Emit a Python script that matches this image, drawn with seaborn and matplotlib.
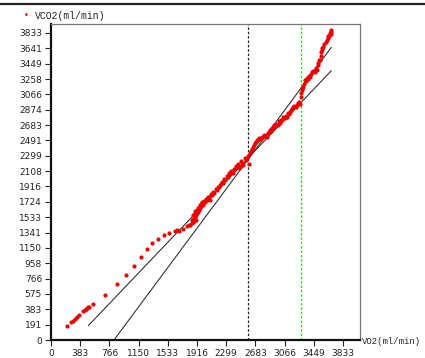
import numpy as np
import pandas as pd
import seaborn as sns
import matplotlib.pyplot as plt
from matplotlib.lines import Line2D

# VO2 / VCO2 samples (ml/min)
vo2 = [206, 263, 284, 315, 337, 372, 425, 446, 459, 477, 490, 503, 556, 713, 871,
       989, 1090, 1186, 1256, 1326, 1405, 1483, 1553, 1624, 1660, 1676, 1728, 1780, 1807,
       1830, 1845, 1850, 1860, 1868, 1872, 1880, 1885, 1890, 1895, 1900, 1905, 1912, 1918,
       1925, 1930, 1938, 1945, 1952, 1960, 1968, 1975, 1985, 1992, 2000, 2010, 2020, 2035,
       2050, 2065, 2080, 2087, 2100, 2115, 2130, 2145, 2160, 2175, 2190, 2205, 2220, 2235,
       2250, 2262, 2275, 2290, 2305, 2320, 2335, 2350, 2365, 2380, 2393, 2400, 2415, 2430,
       2445, 2460, 2470, 2481, 2495, 2510, 2525, 2540, 2555, 2569, 2580, 2600, 2610, 2625,
       2640, 2655, 2665, 2678, 2690, 2705, 2721, 2735, 2750, 2765, 2780, 2795, 2810, 2831,
       2845, 2860, 2875, 2890, 2905, 2918, 2930, 2945, 2960, 2975, 2990, 3006, 3020, 3035,
       3050, 3065, 3080, 3094, 3110, 3125, 3137, 3150, 3165, 3181, 3195, 3210, 3225, 3240,
       3260, 3270, 3278, 3285, 3290, 3300, 3313, 3320, 3334, 3345, 3360, 3375, 3390, 3400,
       3415, 3430, 3445, 3460, 3475, 3488, 3500, 3510, 3520, 3531, 3540, 3545, 3553, 3560,
       3575, 3590, 3605, 3619, 3630, 3640, 3650, 3662, 3670, 3680, 3675]
vco2 = [179, 229, 241, 262, 283, 312, 362, 375, 391, 400, 408, 416, 449, 562, 699,
        811, 928, 1040, 1136, 1207, 1261, 1315, 1340, 1365, 1370, 1365, 1386, 1420, 1440,
        1430, 1460, 1500, 1475, 1561, 1520, 1490, 1580, 1540, 1610, 1560, 1500, 1623, 1590,
        1650, 1600, 1660, 1620, 1690, 1650, 1700, 1670, 1720, 1690, 1706, 1740, 1720, 1760,
        1750, 1790, 1780, 1748, 1820, 1810, 1850, 1840, 1880, 1873, 1910, 1905, 1940, 1950,
        1975, 1956, 2010, 2000, 2050, 2040, 2080, 2070, 2110, 2100, 2081, 2140, 2130, 2170,
        2160, 2200, 2150, 2164, 2230, 2215, 2185, 2270, 2250, 2268, 2300, 2200, 2340, 2360,
        2390, 2410, 2440, 2456, 2470, 2500, 2497, 2520, 2510, 2540, 2530, 2560, 2550, 2538,
        2590, 2600, 2620, 2615, 2650, 2643, 2680, 2670, 2700, 2690, 2730, 2705, 2750, 2745,
        2780, 2770, 2800, 2788, 2830, 2820, 2850, 2870, 2880, 2905, 2920, 2915, 2934, 2960,
        2975, 2950, 3037, 3080, 3120, 3140, 3162, 3200, 3246, 3230, 3270, 3260, 3300, 3287,
        3320, 3340, 3360, 3350, 3390, 3371, 3430, 3460, 3500, 3496, 3550, 3600, 3620, 3650,
        3662, 3690, 3720, 3745, 3770, 3800, 3790, 3829, 3850, 3870, 3820]

# two fitted slopes (end points)
fit1_x = [490, 3680]
fit1_y = [179, 3362]
fit2_x = [827, 3680]
fit2_y = [0, 3654]

vt1 = 2582
vt2 = 3282

tick_pos = [0, 383.3, 766.6, 1149.9, 1533.2, 1916.5, 2299.8, 2683.1, 3066.4, 3449.7, 3833]
x_labels = ["0", "383", "766", "1150", "1533", "1916", "2299", "2683", "3066", "3449", "3833"]
y_pos = [0, 191.65, 383.3, 574.95, 766.6, 958.25, 1149.9, 1341.55, 1533.2, 1724.85, 1916.5,
         2108.15, 2299.8, 2491.45, 2683.1, 2874.75, 3066.4, 3258.05, 3449.7, 3641.35, 3833]
y_labels = ["0", "191", "383", "575", "766", "958", "1150", "1341", "1533", "1724", "1916",
            "2108", "2299", "2491", "2683", "2874", "3066", "3258", "3449", "3641", "3833"]

df = pd.DataFrame({"VO2": vo2, "VCO2": vco2})

sns.set_style("white")
plt.rcParams['font.family'] = ['DejaVu Sans']

fig = plt.figure(figsize=(4.25, 3.58), dpi=100)
ax = fig.add_axes([51 / 425, 18 / 358, 309 / 425, 316 / 358])

sns.lineplot(x=fit1_x, y=fit1_y, color="#333333", lw=0.8, ax=ax)
sns.lineplot(x=fit2_x, y=fit2_y, color="#333333", lw=0.8, ax=ax)
ax.axvline(vt1, color="#222222", lw=0.9, ls=(0, (2, 1.5)))
ax.axvline(vt2, color="#22dd22", lw=0.9, ls=(0, (2, 1.5)))
sns.scatterplot(data=df, x="VO2", y="VCO2", color="#ee0000", s=9, linewidth=0, ax=ax, zorder=3)

ax.set_xlim(0, 4056)
ax.set_ylim(0, 3945)
ax.set_xticks(tick_pos)
ax.set_xticklabels(x_labels, fontsize=6.5, color="#222222")
ax.set_yticks(y_pos)
ax.set_yticklabels(y_labels, fontsize=6.5, color="#222222")
ax.tick_params(axis="both", direction="out", length=4.5, width=0.8, pad=2, color="#222222")
ax.tick_params(axis="x", bottom=True)
ax.tick_params(axis="y", left=True)
ax.set_xlabel("")
ax.set_ylabel("")

for side in ["left", "bottom"]:
    ax.spines[side].set_color("#111111")
    ax.spines[side].set_linewidth(1.6)
for side in ["top", "right"]:
    ax.spines[side].set_color("#777777")
    ax.spines[side].set_linewidth(0.9)

# legend marker + series name, axis name at right end
fig.text(26 / 425, 1 - 16 / 358, "•", color="red", fontsize=6, ha="center", va="center")
fig.text(35 / 425, 1 - 16 / 358, "VCO2(ml/min)", family="Liberation Mono",
         fontsize=7, ha="left", va="center", color="#222222")
fig.text(362 / 425, 1 - 341 / 358, "VO2(ml/min)", family="Liberation Mono",
         fontsize=6.4, ha="left", va="center", color="#222222")

# dark window border across the top
fig.add_artist(Line2D([0, 1], [1 - 4 / 358, 1 - 4 / 358], color="#222222", lw=1.6,
                      transform=fig.transFigure))

fig.savefig("out.png", dpi=100)
